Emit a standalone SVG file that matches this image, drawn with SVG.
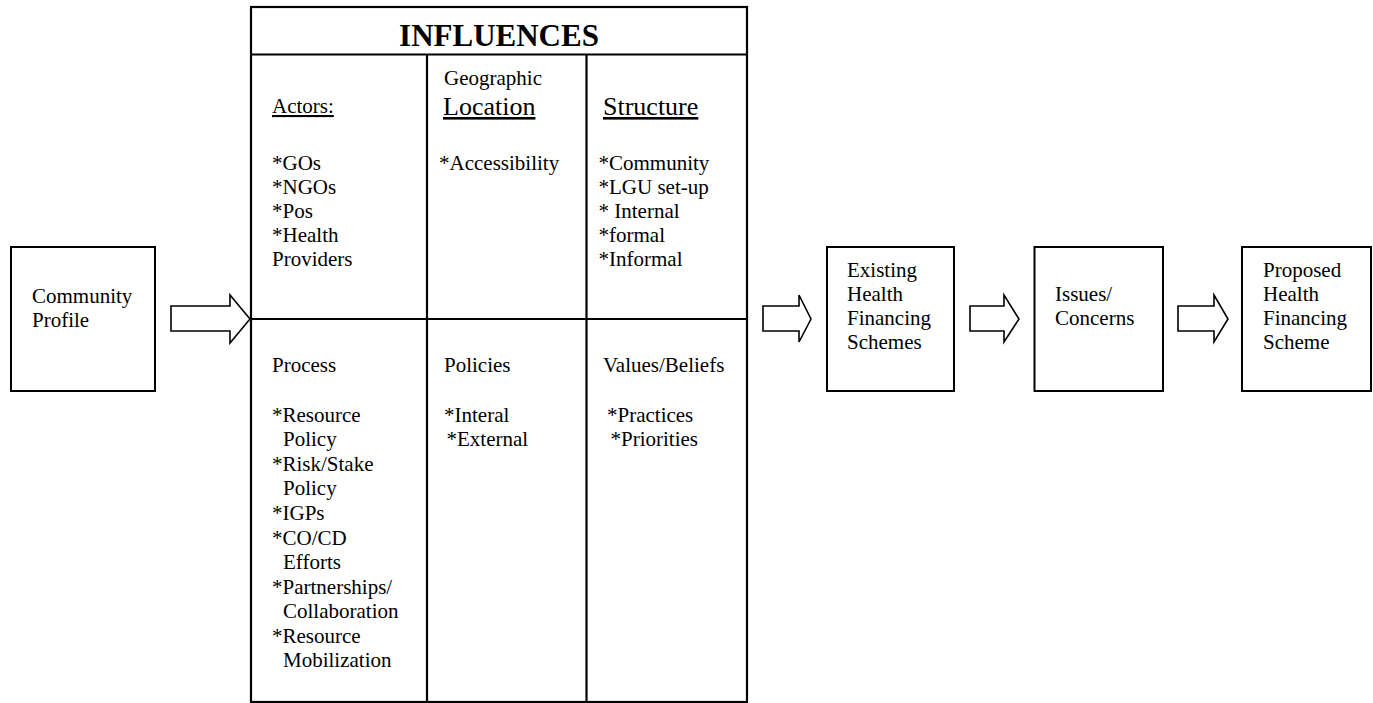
<svg xmlns="http://www.w3.org/2000/svg" width="1373" height="703" viewBox="0 0 1373 703">
<style>
  text { font-family: 'Liberation Serif', serif; font-size: 21px; fill: #000; }
  .title { font-size: 31px; font-weight: bold; text-anchor: middle; }
  .big { font-size: 26px; }
  .ul { text-decoration: underline; }
  .box { fill: #fff; stroke: #000; stroke-width: 2; }
  .tbl { fill: none; stroke: #000; stroke-width: 2.2; }
  .arrow { fill: #fff; stroke: #000; stroke-width: 1.6; stroke-linejoin: miter; }
</style>
<rect width="1373" height="703" fill="#fff"/>

<g id="community-profile">
  <rect class="box" x="11" y="247" width="144" height="144"/>
  <text x="32" y="303">Community</text>
  <text x="32" y="327">Profile</text>
</g>

<g id="influences">
  <rect class="tbl" x="251" y="7" width="496" height="695"/>
  <line class="tbl" x1="251" y1="54.5" x2="747" y2="54.5"/>
  <line class="tbl" x1="251" y1="319" x2="747" y2="319"/>
  <line class="tbl" x1="427" y1="54.5" x2="427" y2="702"/>
  <line class="tbl" x1="586.5" y1="54.5" x2="586.5" y2="702"/>
  <text class="title" x="499" y="46">INFLUENCES</text>

  <g id="actors">
    <text class="ul" x="272" y="113">Actors:</text>
    <text x="272" y="170">*GOs</text>
    <text x="272" y="194">*NGOs</text>
    <text x="272" y="218">*Pos</text>
    <text x="272" y="242">*Health</text>
    <text x="272" y="266">Providers</text>
  </g>
  <g id="geographic-location">
    <text x="444" y="85">Geographic</text>
    <text class="big ul" x="443" y="115">Location</text>
    <text x="439" y="170">*Accessibility</text>
  </g>
  <g id="structure">
    <text class="big ul" x="603" y="115">Structure</text>
    <text x="598.5" y="170">*Community</text>
    <text x="598.5" y="194">*LGU set-up</text>
    <text x="598.5" y="218">* Internal</text>
    <text x="598.5" y="242">*formal</text>
    <text x="598.5" y="266">*Informal</text>
  </g>
  <g id="process">
    <text x="272" y="372">Process</text>
    <text x="272" y="421.7">*Resource</text>
    <text x="283" y="446.3">Policy</text>
    <text x="272" y="470.8">*Risk/Stake</text>
    <text x="283" y="495.4">Policy</text>
    <text x="272" y="520">*IGPs</text>
    <text x="272" y="544.5">*CO/CD</text>
    <text x="283" y="569">Efforts</text>
    <text x="272" y="593.6">*Partnerships/</text>
    <text x="283" y="618.2">Collaboration</text>
    <text x="272" y="642.8">*Resource</text>
    <text x="283" y="667.3">Mobilization</text>
  </g>
  <g id="policies">
    <text x="444" y="372">Policies</text>
    <text x="444" y="421.7">*Interal</text>
    <text x="446.5" y="446.3">*External</text>
  </g>
  <g id="values-beliefs">
    <text x="603" y="372">Values/Beliefs</text>
    <text x="607" y="421.7">*Practices</text>
    <text x="610.5" y="446.3">*Priorities</text>
  </g>
</g>

<g id="existing-schemes">
  <rect class="box" x="827" y="247" width="127" height="144"/>
  <text x="847" y="277">Existing</text>
  <text x="847" y="301">Health</text>
  <text x="847" y="325">Financing</text>
  <text x="847" y="349">Schemes</text>
</g>

<g id="issues-concerns">
  <rect class="box" x="1034.5" y="247" width="128.5" height="144"/>
  <text x="1055" y="301">Issues/</text>
  <text x="1055" y="325">Concerns</text>
</g>

<g id="proposed-scheme">
  <rect class="box" x="1242" y="247" width="129" height="144"/>
  <text x="1263" y="277">Proposed</text>
  <text x="1263" y="301">Health</text>
  <text x="1263" y="325">Financing</text>
  <text x="1263" y="349">Scheme</text>
</g>

<g id="connectors">
  <polygon class="arrow" points="171,306 230,306 230,295 250,319 230,343 230,331 171,331"/>
  <polygon class="arrow" points="763,306 799,306 799,295 811,319 799,342 799,331 763,331"/>
  <polygon class="arrow" points="970,306 1004,306 1004,295 1019,319 1004,342 1004,331 970,331"/>
  <polygon class="arrow" points="1178,306 1214,306 1214,295 1228,319 1214,342 1214,331 1178,331"/>
</g>
</svg>
